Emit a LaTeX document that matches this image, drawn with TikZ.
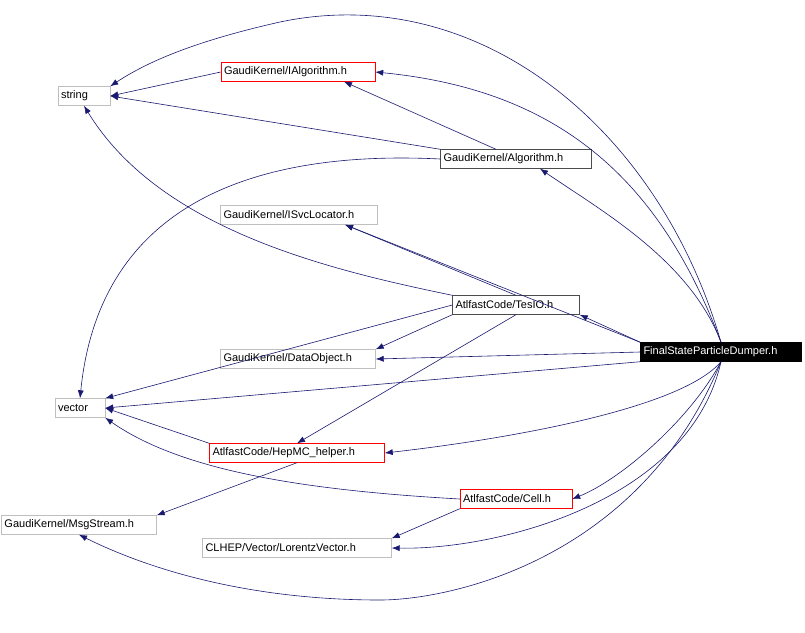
\documentclass[tikz,border=0pt]{standalone}
\usepackage{fontspec}
\setmainfont{Liberation Sans}
\usetikzlibrary{arrows.meta}
\definecolor{edge}{RGB}{25,25,112}
\definecolor{gbox}{RGB}{191,191,191}
\begin{document}
\begin{tikzpicture}[x=1pt,y=-1pt,
  box/.style={draw=#1,fill=white,inner xsep=3pt,inner ysep=0pt,minimum height=19pt,font=\fontsize{11}{13}\selectfont,align=left},
  e/.style={draw=edge,line width=0.6pt,-{Latex[length=8pt,width=6pt]}}]
\useasboundingbox (0,0) rectangle (805,632);
\node[box=gbox,text width=46pt] (str) at (84,96) {string};
\node[box=red,text width=148pt] (ialg) at (298,72) {GaudiKernel/IAlgorithm.h};
\node[box=black!70,text width=145pt] (alg) at (516,159) {GaudiKernel/Algorithm.h};
\node[box=gbox,text width=151pt] (isvc) at (299,215) {GaudiKernel/ISvcLocator.h};
\node[box=black!70,text width=121pt] (tes) at (516,305) {AtlfastCode/TesIO.h};
\node[box=black,fill=black,text=white,text width=155pt] (fs) at (721,352) {FinalStateParticleDumper.h};
\node[box=gbox,text width=149pt] (data) at (298,359) {GaudiKernel/DataObject.h};
\node[box=gbox,text width=44pt] (vec) at (80,408) {vector};
\node[box=red,text width=169pt] (hep) at (297,453) {AtlfastCode/HepMC\_helper.h};
\node[box=red,text width=106pt] (cell) at (516,499) {AtlfastCode/Cell.h};
\node[box=gbox,text width=149pt] (msg) at (79,525) {GaudiKernel/MsgStream.h};
\node[box=gbox,text width=183pt] (lv) at (297,548) {CLHEP/Vector/LorentzVector.h};
% from FinalStateParticleDumper
\draw[e] (fs.north) .. controls (660,130) and (480,-20) .. (280,22) .. controls (200,40) and (150,60) .. (str.north east);
\draw[e] (fs.north) .. controls (660,180) and (560,90) .. (ialg.east);
\draw[e] (fs.north) .. controls (690,260) and (600,210) .. ([xshift=24pt]alg.south);
\draw[e] (fs.north west) -- ([xshift=46pt]isvc.south);
\draw[e] (fs.north west) -- (tes.south east);
\draw[e] (fs.west) -- (data.east);
\draw[e] (fs.south west) -- (vec.east);
\draw[e] (fs.south) .. controls (680,410) and (500,440) .. (hep.east);
\draw[e] (fs.south) .. controls (690,420) and (620,480) .. (cell.east);
\draw[e] (fs.south) .. controls (690,500) and (500,550) .. (lv.east);
\draw[e] (fs.south) .. controls (640,560) and (450,600) .. (380,600) .. controls (250,600) and (150,570) .. (msg.south);
% others
\draw[e] (ialg.west) -- (str.east);
\draw[e] ([xshift=-20pt]alg.north) -- ([xshift=46pt]ialg.south);
\draw[e] (alg.north west) -- (str.east);
\draw[e] (alg.west) .. controls (260,150) and (100,200) .. (vec.north);
\draw[e] (tes.north west) .. controls (330,270) and (160,230) .. (str.south);
\draw[e] (tes.north) -- ([xshift=46pt]isvc.south);
\draw[e] (tes.south west) -- (data.north east);
\draw[e] (tes.west) -- (vec.north east);
\draw[e] (tes.south) -- (hep.north);
\draw[e] (hep.north west) -- (vec.east);
\draw[e] (hep.south) -- (msg.north east);
\draw[e] (cell.west) .. controls (300,490) and (180,470) .. (vec.south east);
\draw[e] (cell.south west) -- (lv.north east);
\end{tikzpicture}
\end{document}
